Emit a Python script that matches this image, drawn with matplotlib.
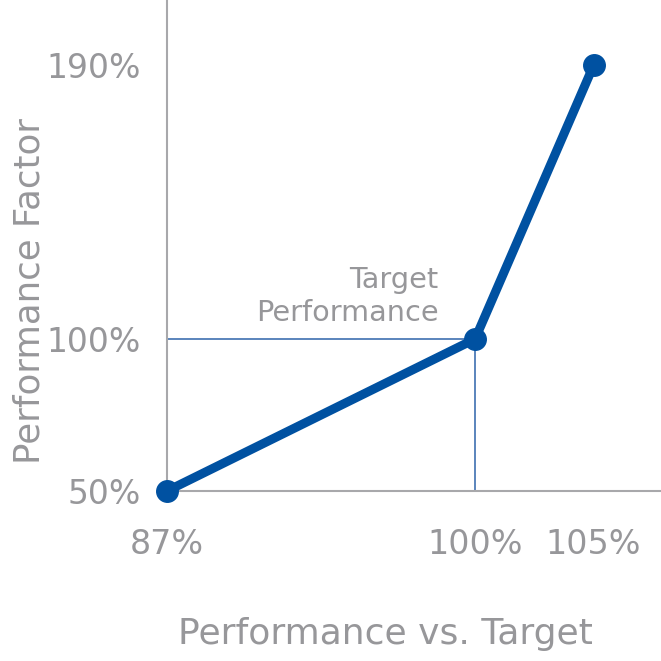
import matplotlib
matplotlib.use("Agg")
import matplotlib.pyplot as plt

# performance vs target (%) -> performance factor (%)
perf = [87, 100, 105]
factor = [50, 100, 190]
target_perf = 100
target_factor = 100

x_ticks = [87, 100, 105]
y_ticks = [50, 100, 190]

BLUE = "#0051a1"
REF_BLUE = "#2d63a9"
GRAY = "#97979a"
SPINE = "#a8a8ab"

fig = plt.figure(figsize=(6.61, 6.61), dpi=100)
ax = fig.add_axes([167 / 661, 170 / 661, 494 / 661, 491 / 661])
ax.set_xlim(87, 87 + 494 / 23.7)
ax.set_ylim(50, 50 + 491 / 3.04)

# reference lines to the target point
ax.plot([87, target_perf], [target_factor, target_factor], color=REF_BLUE, lw=1.1,
        zorder=2, clip_on=False)
ax.plot([target_perf, target_perf], [50, target_factor], color=REF_BLUE, lw=1.1,
        zorder=2, clip_on=False)

ax.plot(perf, factor, color=BLUE, lw=6.5, marker="o", ms=15.5, zorder=4,
        clip_on=False, solid_capstyle="round")

ax.annotate("Target\nPerformance", (98.45, 114.0), ha="right", va="center",
            multialignment="right", fontsize=20.7, color=GRAY, linespacing=1.25)

for side in ("top", "right"):
    ax.spines[side].set_visible(False)
for side in ("left", "bottom"):
    ax.spines[side].set_color(SPINE)
    ax.spines[side].set_linewidth(1.5)

ax.set_xticks(x_ticks)
ax.set_xticklabels([f"{v}%" for v in x_ticks])
ax.set_yticks(y_ticks)
ax.set_yticklabels([f"{v}%" for v in y_ticks])
ax.tick_params(axis="x", length=0, pad=27, labelsize=24, labelcolor=GRAY)
ax.tick_params(axis="y", length=0, pad=18.5, labelsize=23.8, labelcolor=GRAY)

fig.text(385 / 661, 1 - 634 / 661, "Performance vs. Target", ha="center", va="center",
         fontsize=26, color=GRAY)
fig.text(30 / 661, 1 - 291 / 661, "Performance Factor", ha="center", va="center",
         rotation=90, fontsize=25.6, color=GRAY)

fig.savefig("out.png", dpi=100)
